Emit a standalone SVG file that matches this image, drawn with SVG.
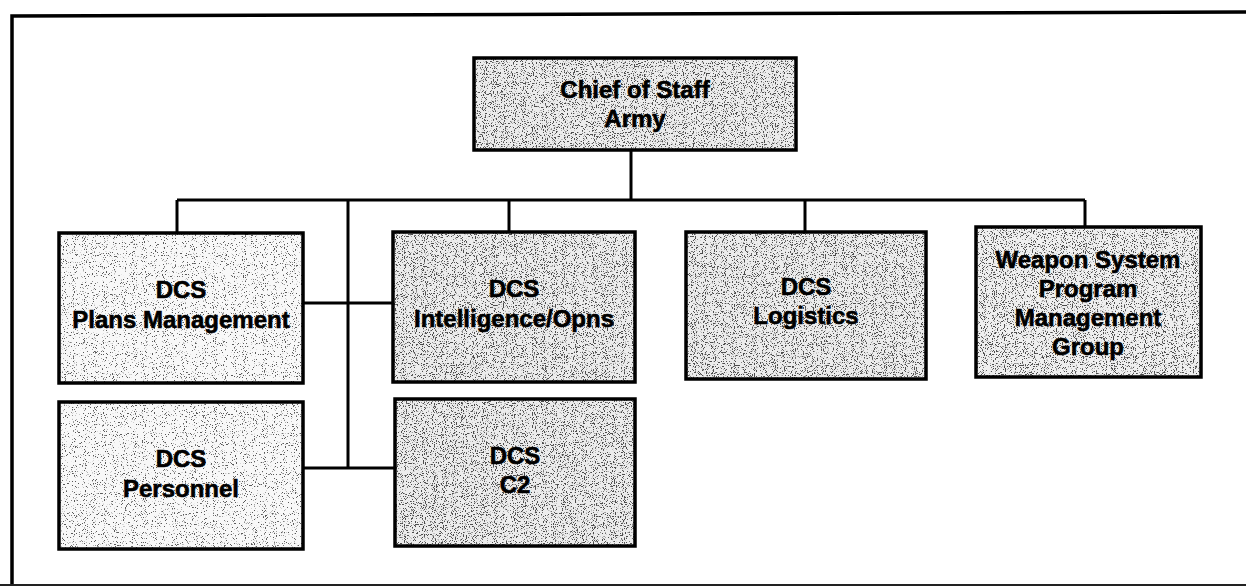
<svg xmlns="http://www.w3.org/2000/svg" width="1246" height="586" viewBox="0 0 1246 586">
<style>
.box{fill:none;stroke:#000;stroke-width:3.5}
.lbl{font-family:"Liberation Sans",Arial,sans-serif;font-weight:bold;font-size:24px;fill:#000;stroke:#000;stroke-width:0.6;text-anchor:middle}
.line{fill:none;stroke:#000;stroke-width:3}
</style>
<defs>
<filter id="dark" x="0" y="0" width="100%" height="100%" color-interpolation-filters="sRGB">
<feTurbulence type="fractalNoise" baseFrequency="0.9" numOctaves="2" seed="4" result="n"/>
<feColorMatrix in="n" type="matrix" values="0 0 0 0 0.3  0 0 0 0 0.3  0 0 0 0 0.3  -12 0 0 0 5.2" result="d"/>
<feComposite in="d" in2="SourceAlpha" operator="in" result="dc"/>
<feMerge><feMergeNode in="SourceGraphic"/><feMergeNode in="dc"/></feMerge>
</filter>
<filter id="light" x="0" y="0" width="100%" height="100%" color-interpolation-filters="sRGB">
<feTurbulence type="fractalNoise" baseFrequency="0.9" numOctaves="2" seed="9" result="n"/>
<feColorMatrix in="n" type="matrix" values="0 0 0 0 0.35  0 0 0 0 0.35  0 0 0 0 0.35  -12 0 0 0 4.55" result="d"/>
<feComposite in="d" in2="SourceAlpha" operator="in" result="dc"/>
<feMerge><feMergeNode in="SourceGraphic"/><feMergeNode in="dc"/></feMerge>
</filter>
</defs>
<rect x="0" y="0" width="1246" height="586" fill="#fff"/>
<g id="frame">
<path d="M12,586 L12,16 L1246,12" fill="none" stroke="#000" stroke-width="3.5"/>
<line x1="0" y1="585" x2="1246" y2="585" stroke="#222" stroke-width="2"/>
</g>
<g id="connectors">
<path class="line" d="M631,150 V200"/>
<path class="line" d="M177,200 H1085"/>
<path class="line" d="M177,200 V233"/>
<path class="line" d="M509,200 V232"/>
<path class="line" d="M805,200 V232"/>
<path class="line" d="M1085,200 V227"/>
<path class="line" d="M348,200 V468"/>
<path class="line" d="M303,303 H393"/>
<path class="line" d="M303,468 H395"/>
</g>
<g id="chief">
<rect x="474" y="58" width="322" height="92" fill="#ececec" filter="url(#dark)"/>
<rect class="box" x="474" y="58" width="322" height="92"/>
<text class="lbl" x="635" y="98">Chief of Staff</text>
<text class="lbl" x="635" y="127">Army</text>
</g>
<g id="plans">
<rect x="59" y="233" width="244" height="150" fill="#f8f8f8" filter="url(#light)"/>
<rect class="box" x="59" y="233" width="244" height="150"/>
<text class="lbl" x="181" y="298">DCS</text>
<text class="lbl" x="181" y="328">Plans Management</text>
</g>
<g id="intel">
<rect x="393" y="232" width="242" height="150" fill="#ececec" filter="url(#dark)"/>
<rect class="box" x="393" y="232" width="242" height="150"/>
<text class="lbl" x="514" y="297">DCS</text>
<text class="lbl" x="514" y="327">Intelligence/Opns</text>
</g>
<g id="logistics">
<rect x="686" y="232" width="240" height="147" fill="#ececec" filter="url(#dark)"/>
<rect class="box" x="686" y="232" width="240" height="147"/>
<text class="lbl" x="806" y="295">DCS</text>
<text class="lbl" x="806" y="324">Logistics</text>
</g>
<g id="weapon">
<rect x="976" y="227" width="225" height="150" fill="#efefef" filter="url(#dark)"/>
<rect class="box" x="976" y="227" width="225" height="150"/>
<text class="lbl" x="1088" y="268">Weapon System</text>
<text class="lbl" x="1088" y="297">Program</text>
<text class="lbl" x="1088" y="326">Management</text>
<text class="lbl" x="1088" y="355">Group</text>
</g>
<g id="personnel">
<rect x="59" y="402" width="244" height="147" fill="#f8f8f8" filter="url(#light)"/>
<rect class="box" x="59" y="402" width="244" height="147"/>
<text class="lbl" x="181" y="467">DCS</text>
<text class="lbl" x="181" y="497">Personnel</text>
</g>
<g id="c2">
<rect x="395" y="399" width="240" height="147" fill="#ececec" filter="url(#dark)"/>
<rect class="box" x="395" y="399" width="240" height="147"/>
<text class="lbl" x="515" y="464">DCS</text>
<text class="lbl" x="515" y="493">C2</text>
</g>
</svg>
